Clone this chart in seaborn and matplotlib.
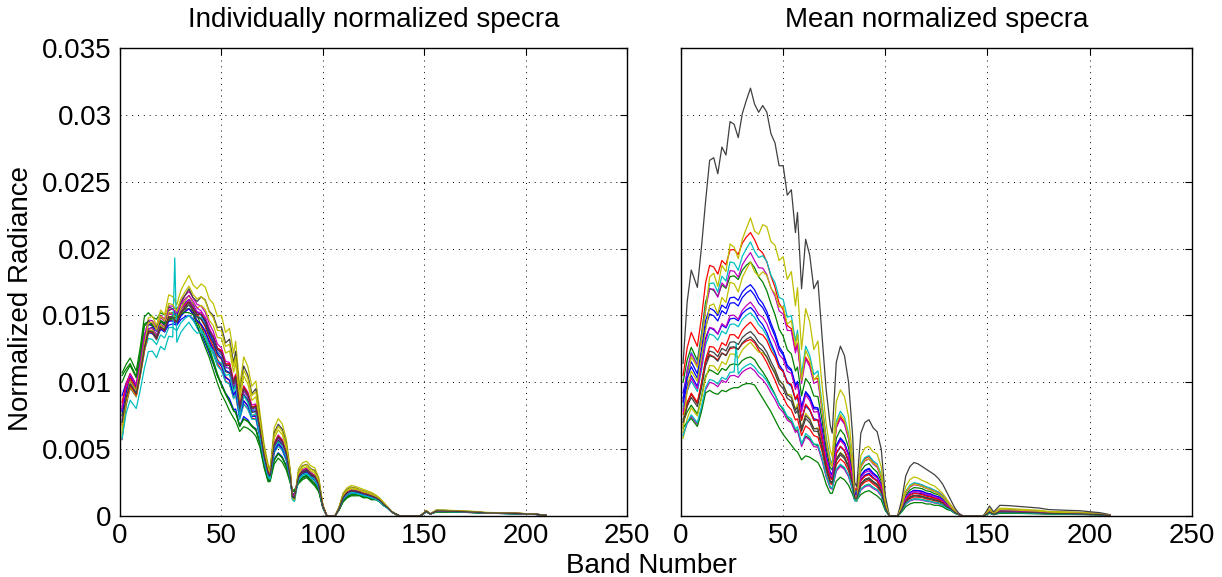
import numpy as np
import pandas as pd
import seaborn as sns
import matplotlib
matplotlib.use("Agg")
import matplotlib.pyplot as plt

bands = [1, 3, 5, 8, 10, 12, 14, 16, 18, 20, 22, 24, 26, 27, 28, 30, 32, 34, 36, 38,
         40, 42, 44, 46, 48, 50, 52, 54, 56, 57, 59, 61, 63, 65, 67, 69, 71, 73, 74, 76,
         78, 80, 82, 84, 85, 86, 88, 90, 92, 94, 96, 98, 100, 102, 104, 106, 108, 110, 112, 114,
         116, 118, 120, 122, 124, 126, 128, 130, 132, 134, 136, 138, 140, 148, 151, 153, 156, 160, 165, 170,
         175, 180, 185, 190, 195, 200, 205, 210]

# brightest spectrum (black curve, right panel)
black_profile = [0.0114, 0.0160, 0.0184, 0.0171, 0.0201, 0.0235, 0.0266, 0.0268, 0.0256, 0.0276,
                 0.0270, 0.0295, 0.0293, 0.0288, 0.0283, 0.0301, 0.0311, 0.0320, 0.0308, 0.0302,
                 0.0307, 0.0302, 0.0286, 0.0279, 0.0262, 0.0262, 0.0240, 0.0244, 0.0212, 0.0227,
                 0.0170, 0.0207, 0.0195, 0.0170, 0.0176, 0.0135, 0.0095, 0.0068, 0.0062, 0.0115,
                 0.0127, 0.0120, 0.0100, 0.0060, 0.0025, 0.0022, 0.0062, 0.0070, 0.0072, 0.0066,
                 0.0063, 0.0050, 0.0015, 0.0, 0.0, 0.0, 0.0012, 0.0030, 0.0037, 0.0040,
                 0.0039, 0.0037, 0.0035, 0.0033, 0.0031, 0.0028, 0.0024, 0.0018, 0.0012, 0.0006,
                 0.0002, 0.0, 0.0, 0.0, 0.00075, 0.0003, 0.0008, 0.00078, 0.00072, 0.00066,
                 0.0006, 0.00048, 0.00045, 0.00042, 0.0004, 0.00032, 0.00025, 0.0001]

# darkest spectrum (lowest green curve, right panel)
green_profile = [0.0066, 0.0070, 0.0073, 0.0067, 0.0078, 0.0092, 0.0094, 0.0092, 0.0091, 0.0094,
                 0.0093, 0.0095, 0.0096, 0.0096, 0.0096, 0.0098, 0.0099, 0.0099, 0.0098, 0.0093,
                 0.0088, 0.0083, 0.0078, 0.0072, 0.0066, 0.0061, 0.0057, 0.0053, 0.0049, 0.0048,
                 0.0042, 0.0045, 0.0044, 0.0042, 0.0040, 0.0034, 0.0024, 0.0017, 0.0017, 0.0026,
                 0.0029, 0.0027, 0.0023, 0.0016, 0.0012, 0.0012, 0.0016, 0.0018, 0.0019, 0.0017,
                 0.0015, 0.0012, 0.0004, 0.0, 0.0, 0.0, 0.0003, 0.0007, 0.0009, 0.0010,
                 0.0010, 0.0010, 0.0009, 0.0009, 0.0008, 0.0008, 0.0007, 0.0005, 0.0004, 0.0002,
                 0.0001, 0.0, 0.0, 0.0, 0.0002, 0.0001, 0.0002, 0.0002, 0.0002, 0.00018,
                 0.00016, 0.00014, 0.00013, 0.00012, 0.00011, 0.0001, 0.00008, 0.00004]

# right panel (mean normalized): value of each spectrum at band 1 and band 34
mean_start = [0.0092, 0.0100, 0.0105, 0.0082, 0.0086, 0.0062, 0.0114,
              0.0088, 0.0070, 0.0076, 0.0080, 0.0060, 0.0058, 0.0072,
              0.0085, 0.0066, 0.0068, 0.0060, 0.0078, 0.0066, 0.0070]
mean_peak = [0.0173, 0.0190, 0.0212, 0.0205, 0.0197, 0.0223, 0.0320,
             0.0169, 0.0119, 0.0132, 0.0152, 0.0111, 0.0130, 0.0138,
             0.0156, 0.0099, 0.0145, 0.0114, 0.0160, 0.0190, 0.0134]

# left panel (individually normalized): same spectra at band 1 and band 34
indiv_start = [0.0090, 0.0107, 0.0085, 0.0070, 0.0078, 0.0060, 0.0057,
               0.0080, 0.0100, 0.0082, 0.0075, 0.0072, 0.0062, 0.0075,
               0.0078, 0.0105, 0.0068, 0.0058, 0.0080, 0.0065, 0.0070]
indiv_peak = [0.0150, 0.0160, 0.0160, 0.0158, 0.0168, 0.0180, 0.0170,
              0.0162, 0.0155, 0.0155, 0.0150, 0.0162, 0.0165, 0.0158,
              0.0155, 0.0152, 0.0160, 0.0145, 0.0165, 0.0172, 0.0160]

# matlab default line colours b g r c m y k
matlab_colors = [(0, 0, 1), (0, 0.5, 0), (1, 0, 0), (0, 0.75, 0.75),
                 (0.75, 0, 0.75), (0.75, 0.75, 0), (0.25, 0.25, 0.25)]

# single-band spike on one cyan spectrum (band 27)
spike_curve = 17
spike_band = 27
spike_indiv = 0.0193
spike_mean = 0.0129

xticks = [0, 50, 100, 150, 200, 250]
yticks = [0, 0.005, 0.01, 0.015, 0.02, 0.025, 0.03, 0.035]
ytick_labels = ["0", "0.005", "0.01", "0.015", "0.02", "0.025", "0.03", "0.035"]


A = np.array(black_profile)
B = np.array(green_profile)
i1 = bands.index(1)
ip = bands.index(34)
isp = bands.index(spike_band)
M = np.array([[A[i1], B[i1]], [A[ip], B[ip]]])

def spectrum(start, peak):
    w = np.linalg.solve(M, [start, peak])
    return np.clip(w[0]*A + w[1]*B, 0, None)

rows = []
for k in range(len(mean_start)):
    indiv = spectrum(indiv_start[k], indiv_peak[k])
    mean = spectrum(mean_start[k], mean_peak[k])
    if k == spike_curve:
        indiv[isp] = spike_indiv
        mean[isp] = spike_mean
    name = "s%02d" % k
    for b_, v1, v2 in zip(bands, indiv, mean):
        rows.append([name, b_, v1, v2])
df = pd.DataFrame(rows, columns=["curve", "band", "indiv", "mean"])

names = ["s%02d" % k for k in range(len(mean_start))]
pal = [matlab_colors[k % 7] for k in range(len(names))]

sns.set_style("white")
plt.rcParams['font.family'] = ['Liberation Sans', 'DejaVu Sans']
plt.rcParams['text.color'] = 'black'

fig = plt.figure(figsize=(12.22, 5.77), dpi=100)
ax1 = fig.add_axes([0.0982, 0.1057, 0.415, 0.811])
ax2 = fig.add_axes([0.5573, 0.1057, 0.418, 0.811])

sns.lineplot(data=df, x="band", y="indiv", hue="curve", hue_order=names, palette=pal,
             estimator=None, sort=False, legend=False, linewidth=0.9, ax=ax1)
sns.lineplot(data=df, x="band", y="mean", hue="curve", hue_order=names, palette=pal,
             estimator=None, sort=False, legend=False, linewidth=0.9, ax=ax2)

for ax in (ax1, ax2):
    ax.set_xlim(0, 250)
    ax.set_ylim(0, 0.035)
    ax.set_xticks(xticks)
    ax.set_xticklabels([str(t) for t in xticks])
    ax.set_yticks(yticks)
    ax.set_yticklabels(ytick_labels)
    ax.tick_params(direction='in', top=True, right=True, length=5, width=0.8,
                   labelsize=20, colors='black', pad=6)
    ax.tick_params(axis='x', pad=5)
    ax.grid(True, color='black', linestyle=(0, (1, 5)), linewidth=0.7)
    ax.set_xlabel("")
    ax.set_ylabel("")
    for s in ax.spines.values():
        s.set_color('black')
        s.set_linewidth(1.0)
ax2.tick_params(labelleft=False)

ax1.set_title("Individually normalized specra", fontsize=20, pad=15, color='black')
ax2.set_title("Mean normalized specra", fontsize=20, pad=15, color='black')
fig.text(0.5335, 0.007, "Band Number", fontsize=20, ha='center', va='baseline')
fig.text(0.017, 0.483, "Normalized Radiance", fontsize=20, rotation=90, ha='center', va='center')

plt.savefig("out.png", dpi=100)
